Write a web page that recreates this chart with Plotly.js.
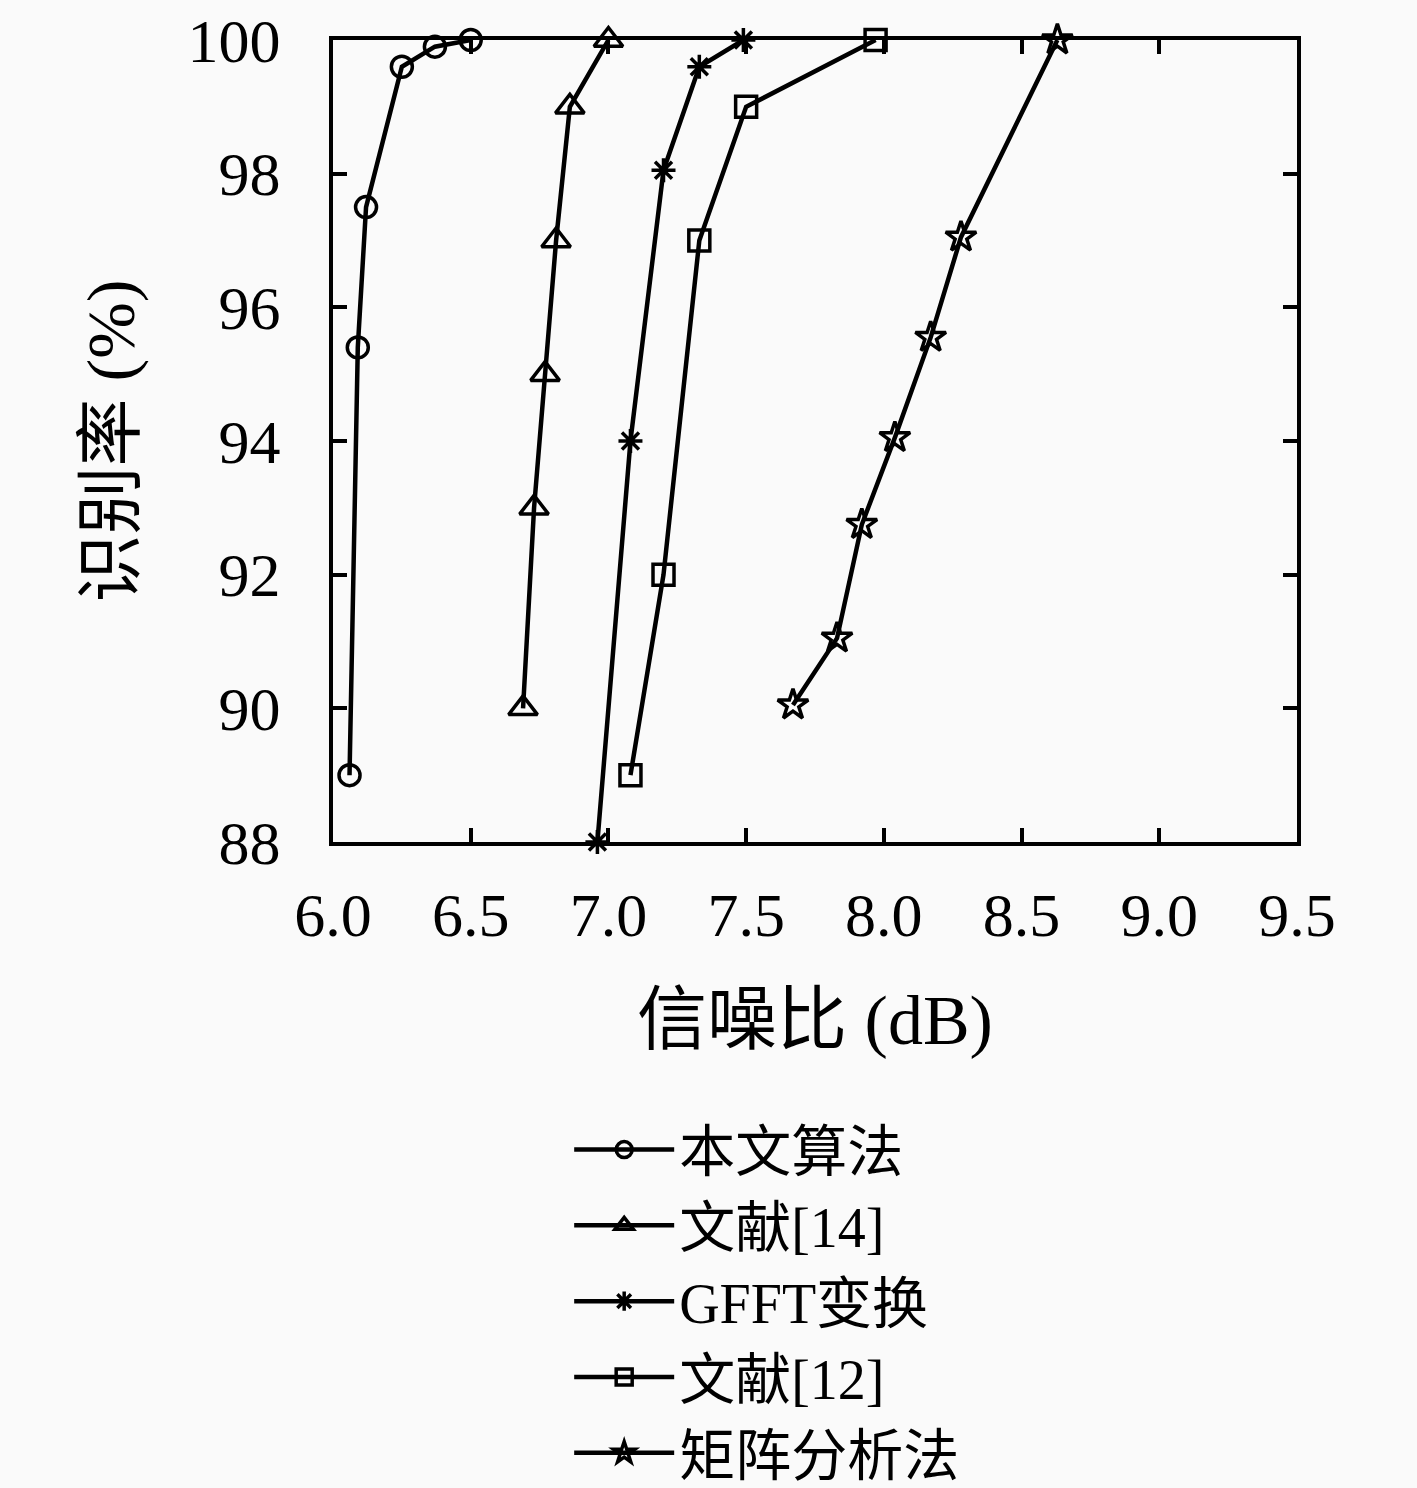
<!DOCTYPE html>
<html>
<head>
<meta charset="utf-8">
<script src="https://cdn.plot.ly/plotly-3.0.1.min.js"></script>
<style>
  body { margin: 0; background: #fafafa; }
  #chart { width: 1417px; height: 1488px; }
</style>
</head>
<body>
<div id="chart"></div>
<script>
// Values
const names = ['本文算法', '文献[14]', 'GFFT变换', '文献[12]', '矩阵分析法'];

const snrOurs = [6.06, 6.09, 6.12, 6.25, 6.37, 6.50];
const accOurs = [89.0, 95.4, 97.5, 99.6, 99.9, 100];

const snrRef14 = [6.69, 6.73, 6.77, 6.81, 6.86, 7.00];
const accRef14 = [90.0, 93.0, 95.0, 97.0, 99.0, 100];

const snrGfft = [6.96, 7.08, 7.20, 7.33, 7.49];
const accGfft = [88.0, 94.0, 98.05, 99.6, 100];

const snrRef12 = [7.08, 7.20, 7.33, 7.50, 7.97];
const accRef12 = [89.0, 92.0, 97.0, 99.0, 100];

const snrMatrix = [7.67, 7.83, 7.92, 8.04, 8.17, 8.28, 8.63];
const accMatrix = [90.05, 91.05, 92.75, 94.05, 95.55, 97.05, 100];

const xTicks = [6.0, 6.5, 7.0, 7.5, 8.0, 8.5, 9.0, 9.5];
const yTicks = [88, 90, 92, 94, 96, 98, 100];

const fontFamily = '"Liberation Serif", "DejaVu Serif", "Noto Sans CJK SC", serif';

function makeTrace(x, y, name, symbol, size) {
  return {
    x: x, y: y, name: name,
    type: 'scatter', mode: 'lines+markers',
    cliponaxis: false,
    line: {color: '#000000', width: 4.5},
    marker: {symbol: symbol, size: size, color: '#000000',
             line: {color: '#000000', width: 3.5}}
  };
}

const data = [
  makeTrace(snrOurs, accOurs, names[0], 'circle-open', 21),
  makeTrace(snrRef14, accRef14, names[1], 'triangle-up-open', 25),
  makeTrace(snrGfft, accGfft, names[2], 'asterisk-open', 20),
  makeTrace(snrRef12, accRef12, names[3], 'square-open', 21),
  makeTrace(snrMatrix, accMatrix, names[4], 'star-open', 23)
];

const axisCommon = {
  showline: true, linecolor: '#000000', linewidth: 4, mirror: 'ticks',
  ticks: 'inside', ticklen: 14, tickwidth: 4, tickcolor: '#000000',
  showgrid: false, zeroline: false, automargin: false,
  tickfont: {family: fontFamily, size: 62, color: '#000000'}
};

const layout = {
  width: 1417, height: 1488,
  paper_bgcolor: '#fafafa', plot_bgcolor: '#fafafa',
  margin: {l: 333, r: 120, t: 40, b: 646, autoexpand: false},
  font: {family: fontFamily, color: '#000000'},
  showlegend: true,
  xaxis: Object.assign({}, axisCommon, {
    range: [6.0, 9.5], tickvals: xTicks,
    ticktext: xTicks.map(v => v.toFixed(1)),
    ticklabelstandoff: 16,
    title: {text: '信噪比 (dB)', font: {family: fontFamily, size: 70}, standoff: 48}
  }),
  yaxis: Object.assign({}, axisCommon, {
    range: [88, 100], tickvals: yTicks,
    ticklabelstandoff: 36,
    title: {text: '识别率 (%)', font: {family: fontFamily, size: 68}, standoff: 32}
  }),
  legend: {
    x: 0.245, y: -0.33, xanchor: 'left', yanchor: 'top',
    bgcolor: 'rgba(0,0,0,0)', borderwidth: 0,
    itemwidth: 100, tracegroupgap: 0,
    font: {family: fontFamily, size: 56, color: '#000000'}
  }
};

Plotly.newPlot('chart', data, layout, {displayModeBar: false, staticPlot: true});
</script>
</body>
</html>
